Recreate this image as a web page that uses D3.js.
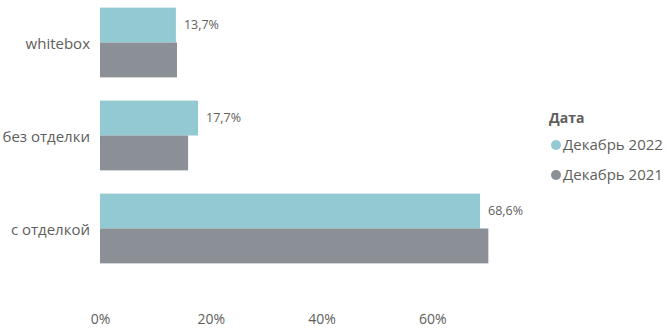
<!DOCTYPE html>
<html>
<head>
<meta charset="utf-8">
<script src="https://cdn.jsdelivr.net/npm/d3@7"></script>
<style>
body { margin: 0; background: #fff; }
svg text { font-family: "Open Sans", "Noto Sans", sans-serif; fill: #605e5c; }
</style>
</head>
<body>
<div id="chart"></div>
<script>
var categories = ["whitebox", "без отделки", "с отделкой"];
var series = ["Декабрь 2022", "Декабрь 2021"];
var values2022 = [13.7, 17.7, 68.6];
var values2021 = [13.9, 15.9, 70.1];
var labels2022 = ["13,7%", "17,7%", "68,6%"];
var ticks = [0, 20, 40, 60];
var colors = ["#93c9d2", "#8a9096"];

var width = 670, height = 331;
var svg = d3.select("#chart").append("svg")
	.attr("width", width)
	.attr("height", height);

var x = d3.scaleLinear()
	.domain([0, 75])
	.range([100, 100 + 75 * 5.54]);

var y = d3.scaleBand()
	.domain(categories)
	.range([-4, 275])
	.paddingInner(0.25)
	.paddingOuter(0.125);

var y2 = d3.scaleBand()
	.domain(series)
	.range([0, y.bandwidth()]);

var rows = categories.map(function(c, i) {
	return {cat: c, vals: [values2022[i], values2021[i]], label: labels2022[i]};
});

var g = svg.selectAll("g.row")
	.data(rows)
	.enter().append("g")
	.attr("class", "row")
	.attr("transform", function(d) { return "translate(0," + y(d.cat) + ")"; });

g.selectAll("rect")
	.data(function(d) { return d.vals; })
	.enter().append("rect")
	.attr("x", x(0))
	.attr("y", function(d, i) { return y2(series[i]); })
	.attr("width", function(d) { return x(d) - x(0); })
	.attr("height", y2.bandwidth())
	.attr("fill", function(d, i) { return colors[i]; });

g.append("text")
	.attr("x", function(d) { return x(d.vals[0]) + 8; })
	.attr("y", y2(series[0]) + y2.bandwidth() / 2)
	.attr("dy", "0.35em")
	.attr("font-size", 12.5)
	.text(function(d) { return d.label; });

g.append("text")
	.attr("x", 90)
	.attr("y", y.bandwidth() / 2 + 1)
	.attr("dy", "0.35em")
	.attr("text-anchor", "end")
	.attr("font-size", 15)
	.text(function(d) { return d.cat; });

// x axis
var xAxis = svg.append("g")
	.attr("transform", "translate(0,300)")
	.call(d3.axisBottom(x).tickValues(ticks).tickSize(0).tickPadding(14)
		.tickFormat(function(d) { return d + "%"; }));
xAxis.select(".domain").remove();
xAxis.selectAll("text")
	.attr("font-size", 14)
	.style("font-family", "'Open Sans', 'Noto Sans', sans-serif")
	.attr("fill", "#605e5c");

// legend
var legend = svg.append("g").attr("transform", "translate(549,0)");
legend.append("text")
	.attr("x", 0)
	.attr("y", 118)
	.attr("dy", "0.35em")
	.attr("font-size", 14)
	.attr("font-weight", "bold")
	.text("Дата");

var items = legend.selectAll("g.item")
	.data(series)
	.enter().append("g")
	.attr("class", "item")
	.attr("transform", function(d, i) { return "translate(0," + (145 + i * 30) + ")"; });
items.append("circle")
	.attr("cx", 7)
	.attr("cy", 0)
	.attr("r", 5)
	.attr("fill", function(d, i) { return colors[i]; });
items.append("text")
	.attr("x", 14)
	.attr("y", 0)
	.attr("dy", "0.35em")
	.attr("font-size", 15)
	.text(function(d) { return d; });
</script>
</body>
</html>
